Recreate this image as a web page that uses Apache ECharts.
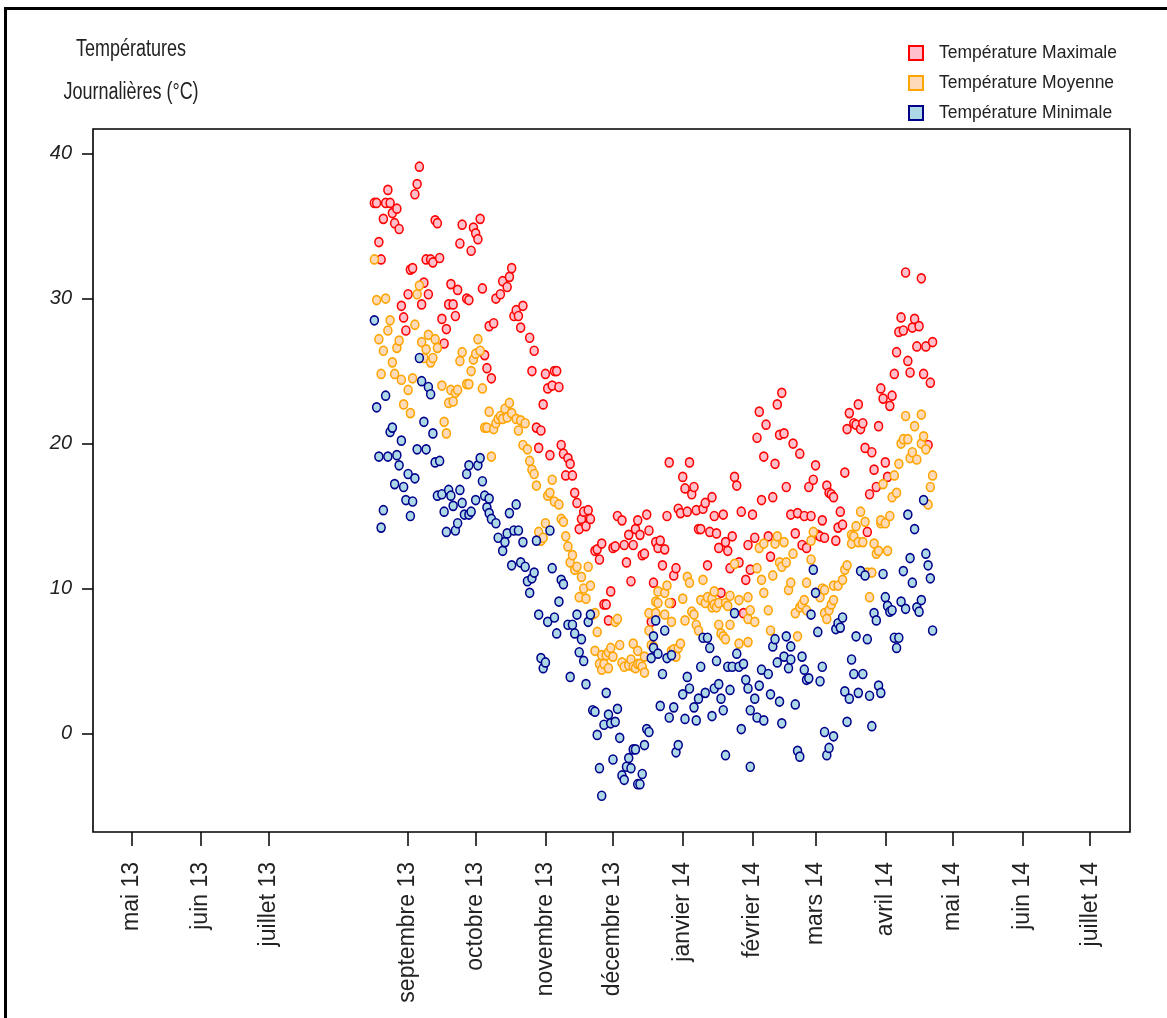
<!DOCTYPE html>
<html><head><meta charset="utf-8">
<script src="https://cdn.jsdelivr.net/npm/echarts@6/dist/echarts.min.js"></script>
<style>html,body{margin:0;padding:0;background:#fff}#c{width:1167px;height:1018px}</style>
</head><body><div id="c"></div>
<script>
// ---- data ----
const startDate = '2013-08-17';           // day 0 of the series
const axisStart = '2013-04-14';
const axisEnd = '2014-07-18';
const tickDates = ['2013-05-01','2013-06-01','2013-07-01','2013-09-01','2013-10-01','2013-11-01','2013-12-01','2014-01-01','2014-02-01','2014-03-01','2014-04-01','2014-05-01','2014-06-01','2014-07-01'];
const tickLabels = ['mai 13','juin 13','juillet 13','septembre 13','octobre 13','novembre 13','décembre 13','janvier 14','février 14','mars 14','avril 14','mai 14','juin 14','juillet 14'];
const yTicks = [0,10,20,30,40];
const seriesNames = ['Température Maximale','Température Moyenne','Température Minimale'];

// [day offset from startDate, °C]
const tmax = [[0,36.6],[1,36.6],[2,33.9],[3,32.7],[4,35.5],[5,36.6],[6,37.5],[7,36.6],[8,35.9],[9,35.2],[10,36.2],[11,34.8],[12,29.5],[13,28.7],[14,27.8],[15,30.3],[16,32.0],[17,32.1],[18,37.2],[19,37.9],[20,39.1],[21,29.6],[22,31.1],[23,32.7],[24,30.3],[25,32.7],[26,32.5],[27,35.4],[28,35.2],[29,32.8],[30,28.6],[31,26.9],[32,27.9],[33,29.6],[34,31.0],[35,29.6],[36,28.8],[37,30.6],[38,33.8],[39,35.1],[41,30.0],[42,29.9],[43,33.3],[44,34.9],[45,34.5],[46,34.1],[47,35.5],[48,30.7],[49,26.1],[50,25.2],[51,28.1],[52,24.5],[53,28.3],[54,30.0],[56,30.3],[57,31.2],[59,30.8],[60,31.5],[61,32.1],[62,28.8],[63,29.2],[64,28.8],[65,28.0],[66,29.5],[69,27.3],[70,25.0],[71,26.4],[72,21.1],[73,19.7],[74,20.9],[75,22.7],[76,24.8],[77,23.8],[78,19.2],[79,24.0],[80,25.0],[81,25.0],[82,23.9],[83,19.9],[84,19.3],[85,17.8],[86,19.0],[87,18.6],[88,17.8],[89,16.6],[90,15.9],[91,14.1],[92,14.8],[93,15.3],[94,14.3],[95,15.4],[96,14.8],[98,12.6],[99,12.7],[100,12.0],[101,13.1],[102,8.9],[103,8.9],[104,7.8],[105,9.8],[106,12.8],[107,12.9],[108,15.0],[110,14.7],[111,13.0],[112,11.8],[113,13.7],[114,10.5],[115,13.0],[116,14.1],[117,14.7],[118,13.7],[119,12.3],[120,12.4],[121,15.1],[122,14.0],[123,7.7],[124,10.4],[125,13.2],[126,12.8],[127,13.3],[128,11.6],[129,12.7],[130,15.0],[131,18.7],[132,9.0],[133,10.9],[134,11.4],[135,15.5],[136,15.2],[137,17.7],[138,16.9],[139,15.3],[140,18.7],[141,16.5],[142,17.0],[143,15.4],[144,14.1],[145,14.1],[146,15.5],[147,15.9],[148,11.6],[149,13.9],[150,16.3],[151,15.0],[152,13.8],[153,12.8],[154,9.7],[155,15.1],[156,13.2],[157,12.6],[158,11.4],[159,13.6],[160,17.7],[161,17.1],[162,11.8],[163,15.3],[164,8.3],[165,10.6],[166,13.0],[167,11.3],[168,15.1],[169,13.5],[170,20.4],[171,22.2],[172,16.1],[173,19.1],[174,21.3],[175,13.6],[176,12.2],[177,16.3],[178,18.6],[179,22.7],[180,20.6],[181,23.5],[182,20.7],[183,17.0],[185,15.1],[186,20.0],[187,13.8],[188,15.2],[189,19.3],[190,13.0],[191,15.0],[192,12.8],[193,17.0],[194,15.0],[195,17.5],[196,18.5],[197,13.7],[198,13.6],[199,14.7],[200,13.5],[201,17.1],[202,16.6],[203,16.5],[204,16.3],[205,13.3],[206,14.2],[207,15.3],[208,14.4],[209,18.0],[210,21.0],[211,22.1],[213,21.4],[214,21.3],[215,22.7],[216,21.0],[217,21.4],[218,19.7],[219,13.9],[220,16.5],[221,19.4],[222,18.2],[223,17.0],[224,21.2],[225,23.8],[226,23.1],[227,18.7],[228,17.7],[229,22.6],[230,23.3],[231,24.8],[232,26.3],[233,27.7],[234,28.7],[235,27.8],[236,31.8],[237,25.7],[238,24.9],[239,28.0],[240,28.6],[241,26.7],[242,28.1],[243,31.4],[244,24.8],[245,26.7],[246,19.9],[247,24.2],[248,27.0]];

const tmoy = [[0,32.7],[1,29.9],[2,27.2],[3,24.8],[4,26.4],[5,30.0],[6,27.8],[7,28.5],[8,25.6],[9,24.8],[10,26.6],[11,27.1],[12,24.4],[13,22.7],[15,23.7],[16,22.1],[17,24.5],[18,28.2],[19,30.3],[20,30.9],[21,27.0],[22,25.9],[23,26.5],[24,27.5],[25,25.6],[26,25.9],[27,27.2],[28,26.6],[30,24.0],[31,21.5],[32,20.7],[33,22.8],[34,23.7],[35,22.9],[36,23.5],[37,23.7],[38,25.7],[39,26.3],[41,24.1],[42,24.1],[43,25.0],[44,25.8],[45,26.2],[46,27.2],[47,26.4],[48,23.8],[49,21.1],[50,21.1],[51,22.2],[52,19.1],[53,21.0],[54,21.4],[55,21.7],[56,21.9],[57,21.7],[58,22.4],[59,21.8],[60,22.8],[61,22.1],[63,21.7],[64,20.9],[65,21.6],[66,19.9],[67,21.4],[68,19.6],[69,18.8],[70,18.2],[71,17.9],[72,17.1],[73,13.9],[74,13.3],[75,13.5],[76,14.5],[77,16.4],[78,16.6],[79,17.5],[80,16.0],[82,15.8],[83,14.8],[84,14.6],[85,13.6],[86,12.9],[87,11.8],[88,12.3],[89,11.3],[90,11.5],[91,9.4],[92,10.8],[93,10.0],[94,9.3],[95,11.5],[96,10.2],[97,8.2],[98,5.7],[98,8.3],[99,7.0],[100,4.8],[101,4.4],[101,5.4],[102,4.8],[103,5.4],[104,4.5],[104,5.6],[105,5.9],[106,5.3],[107,7.7],[108,7.9],[109,6.1],[110,4.9],[111,4.6],[113,4.7],[114,5.1],[115,6.2],[115,4.6],[116,4.5],[117,5.7],[117,4.8],[118,4.8],[119,4.6],[120,4.2],[120,5.3],[122,7.1],[122,8.3],[123,6.1],[124,6.0],[125,8.3],[125,9.1],[126,9.8],[126,9.0],[129,8.2],[129,9.7],[130,10.2],[131,9.0],[132,7.7],[132,5.7],[133,5.8],[134,5.3],[135,5.9],[136,6.2],[137,9.3],[138,7.8],[139,10.8],[140,10.4],[141,8.4],[142,8.2],[143,7.5],[144,7.1],[145,9.2],[146,10.6],[147,9.0],[148,9.4],[150,8.7],[150,9.3],[151,9.8],[151,8.9],[152,8.7],[153,9.0],[153,7.5],[154,6.9],[155,6.7],[156,6.5],[156,9.0],[157,8.8],[158,9.5],[158,7.5],[160,11.7],[162,9.2],[162,6.2],[166,9.4],[166,7.9],[166,6.3],[167,8.5],[169,7.7],[170,11.4],[171,12.8],[172,10.6],[173,9.7],[173,13.1],[175,8.5],[176,7.1],[177,10.9],[178,13.1],[179,13.6],[180,11.8],[181,11.5],[182,13.2],[183,11.8],[184,9.9],[185,10.4],[186,12.4],[187,8.3],[188,6.7],[189,8.7],[190,8.9],[191,9.2],[192,8.5],[192,10.4],[194,12.0],[194,13.3],[195,13.9],[196,9.7],[198,9.4],[199,10.0],[200,9.9],[200,8.3],[201,7.9],[202,8.5],[203,8.9],[204,9.2],[204,10.2],[206,10.2],[208,10.6],[209,11.3],[210,11.6],[212,13.7],[212,13.1],[213,13.6],[214,14.3],[215,13.2],[216,15.3],[217,13.2],[218,14.6],[219,11.1],[220,9.4],[221,11.1],[222,13.1],[223,12.4],[224,12.6],[225,14.5],[225,14.7],[226,17.2],[227,14.5],[228,12.6],[229,15.0],[230,16.3],[231,17.8],[232,16.6],[233,18.6],[234,20.0],[235,20.3],[236,21.9],[237,20.3],[238,19.0],[239,19.4],[240,21.2],[241,18.9],[243,20.0],[243,22.0],[244,20.5],[245,19.6],[246,15.8],[247,17.0],[248,17.8]];

const tmin = [[0,28.5],[1,22.5],[2,19.1],[3,14.2],[4,15.4],[5,23.3],[6,19.1],[7,20.8],[8,21.1],[9,17.2],[10,19.2],[11,18.5],[12,20.2],[13,17.0],[14,16.1],[15,17.9],[16,15.0],[17,16.0],[18,17.6],[19,19.6],[20,25.9],[21,24.3],[22,21.5],[23,19.6],[24,23.9],[25,23.4],[26,20.7],[27,18.7],[28,16.4],[29,18.8],[30,16.5],[31,15.3],[32,13.9],[33,16.8],[34,16.4],[35,15.7],[36,14.0],[37,14.5],[38,16.8],[39,15.9],[40,15.1],[41,17.9],[42,15.1],[42,18.5],[43,15.3],[45,16.1],[46,18.5],[47,19.0],[48,17.4],[49,16.4],[50,15.6],[51,16.2],[51,15.2],[52,14.8],[54,14.5],[55,13.5],[57,12.6],[58,13.2],[59,13.8],[60,15.2],[61,11.6],[62,14.0],[63,15.8],[64,14.0],[65,11.8],[66,13.2],[67,11.5],[68,10.5],[69,9.7],[70,10.7],[71,11.1],[72,13.3],[73,8.2],[74,5.2],[75,4.5],[76,4.9],[77,7.7],[78,14.0],[79,11.4],[80,8.0],[81,6.9],[82,9.1],[83,10.6],[84,10.3],[86,7.5],[87,3.9],[88,7.5],[89,6.9],[90,8.2],[91,5.6],[92,6.5],[93,5.0],[94,3.4],[95,7.7],[96,8.2],[97,1.6],[98,1.5],[99,-0.1],[100,-2.4],[101,-4.3],[102,0.6],[103,2.8],[104,1.3],[105,0.7],[106,-1.8],[107,0.8],[108,1.7],[109,-0.3],[110,-2.9],[111,-3.2],[112,-2.3],[113,-1.7],[114,-2.4],[115,-1.1],[116,-1.1],[117,-3.5],[118,-3.5],[119,-2.8],[120,-0.8],[121,0.3],[122,0.1],[123,5.2],[124,5.9],[124,6.7],[125,7.8],[126,5.5],[127,1.9],[128,4.1],[129,7.1],[130,5.2],[131,1.1],[132,5.4],[133,1.8],[134,-1.3],[135,-0.8],[137,2.7],[138,1.0],[139,3.9],[140,3.1],[142,1.8],[143,0.9],[144,2.4],[145,4.6],[146,6.6],[147,2.8],[148,6.6],[149,5.9],[150,1.2],[151,3.1],[152,5.0],[153,3.4],[154,2.4],[155,1.6],[156,-1.5],[157,4.6],[158,3.0],[159,4.6],[160,8.3],[161,5.5],[162,4.6],[163,0.3],[164,4.8],[165,3.7],[166,3.1],[167,-2.3],[167,1.6],[169,2.4],[170,1.1],[171,3.3],[172,4.4],[173,0.9],[175,4.1],[176,2.7],[177,6.0],[178,6.5],[179,4.9],[180,2.2],[181,0.7],[182,5.3],[183,6.7],[184,4.5],[185,6.0],[185,5.1],[187,2.0],[188,-1.2],[189,-1.6],[190,5.3],[191,4.4],[192,3.7],[193,3.8],[194,8.2],[195,11.3],[196,9.7],[197,7.0],[198,3.6],[199,4.6],[200,0.1],[201,-1.5],[202,-1.0],[204,-0.2],[205,7.2],[206,7.6],[207,7.3],[208,8.0],[209,2.9],[210,0.8],[211,2.4],[212,5.1],[213,4.1],[214,6.7],[215,2.8],[216,11.2],[217,4.1],[218,10.9],[219,6.5],[220,2.6],[221,0.5],[222,8.3],[223,7.8],[224,3.3],[225,2.8],[226,11.0],[227,9.4],[228,8.8],[229,8.4],[230,8.5],[231,6.6],[232,5.9],[233,6.6],[234,9.1],[235,11.2],[236,8.6],[237,15.1],[238,12.1],[239,10.4],[240,14.1],[241,8.7],[242,8.4],[243,9.2],[244,16.1],[245,12.4],[246,11.6],[247,10.7],[248,7.1]];

// ---- build ----
const DAY = 86400000;
function utc(s){ const p = s.split('-').map(Number); return Date.UTC(p[0], p[1]-1, p[2]); }
const t0 = utc(startDate);
const tickTimes = tickDates.map(utc);
const toPts = arr => arr.map(p => [t0 + p[0]*DAY, p[1]]);
const FONT = '"Liberation Sans", Arial, sans-serif';

const styles = [
  {fill:'#FFC0CB', stroke:'#FF0000'},
  {fill:'#FFDAB9', stroke:'#FFA500'},
  {fill:'#ADD8E6', stroke:'#00008B'}
];
const datasets = [tmax, tmoy, tmin];

const chart = echarts.init(document.getElementById('c'), null, {renderer:'canvas'});
chart.setOption({
  animation: false,
  backgroundColor: '#fff',
  grid: {left:93, right:37, top:129, bottom:186, show:true, borderColor:'#000', borderWidth:1.6, backgroundColor:'transparent'},
  xAxis: {
    type:'value', position:'bottom', min: utc(axisStart), max: utc(axisEnd) + 0.7*DAY,
    axisLine:{show:false, onZero:false}, splitLine:{show:false},
    axisTick:{show:true, customValues: tickTimes, length:14, lineStyle:{color:'#000', width:1.5}},
    axisLabel:{show:true, customValues: tickTimes, rotate:90, margin:30, fontSize:23, color:'#222', fontFamily:FONT,
      formatter: v => { const i = tickTimes.findIndex(t => Math.abs(t - v) < DAY/2); return i >= 0 ? tickLabels[i] : ''; }}
  },
  yAxis: {
    type:'value', position:'left', min:-6.8, max:41.7,
    axisLine:{show:false, onZero:false}, splitLine:{show:false},
    axisTick:{show:true, customValues: yTicks, length:11, lineStyle:{color:'#000', width:1.5}},
    axisLabel:{show:true, customValues: yTicks, margin:21, fontSize:20, fontStyle:'italic', color:'#222', fontFamily:FONT}
  },
  legend: {
    orient:'vertical', left:908, top:44, padding:0, itemWidth:14, itemHeight:14, itemGap:12, icon:'rect',
    data: seriesNames,
    textStyle:{fontSize:17.5, color:'#222', fontFamily:FONT, padding:[0,0,0,11]}
  },
  series: datasets.map((d, i) => ({
    name: seriesNames[i], type:'scatter', data: toPts(d),
    symbol:'circle', symbolSize:[8,9],
    itemStyle:{color: styles[i].fill, borderColor: styles[i].stroke, borderWidth:1.6, opacity:1},
    z: 2 + i
  })),
  graphic: [
    {type:'text', x:131, y:49, scaleY:1.32, style:{text:'Températures', textAlign:'center', textVerticalAlign:'middle', fontSize:18, fontFamily:FONT, fill:'#222'}},
    {type:'text', x:131, y:92, scaleY:1.32, style:{text:'Journalières (°C)', textAlign:'center', textVerticalAlign:'middle', fontSize:18, fontFamily:FONT, fill:'#222'}},
    {type:'polyline', shape:{points:[[5.5,1018],[5.5,8.5],[1167,8.5]]}, style:{stroke:'#000', lineWidth:3, fill:null}}
  ]
});
</script></body></html>
